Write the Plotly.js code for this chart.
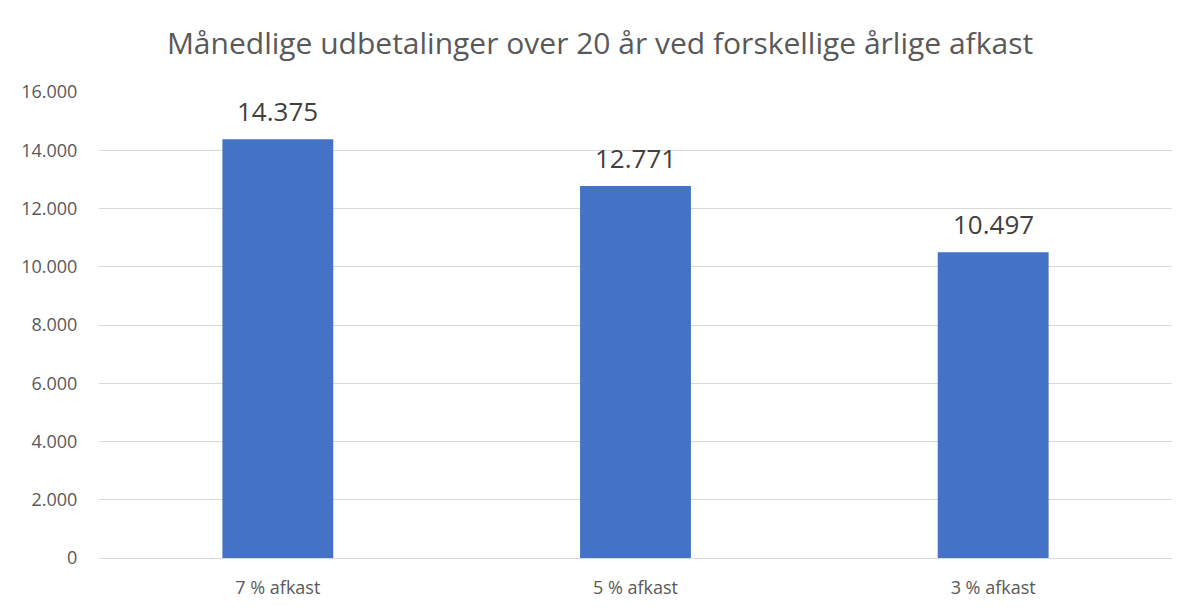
<!DOCTYPE html>
<html>
<head>
<meta charset="utf-8">
<script src="https://cdn.plot.ly/plotly-3.0.1.min.js"></script>
<style>
  html, body { margin: 0; padding: 0; background: #fff; }
  #chart { width: 1200px; height: 615px; }
</style>
</head>
<body>
<div id="chart"></div>
<script>
// afkastscenarier og månedlig udbetaling (kr.)
const categories = ['7 % afkast', '5 % afkast', '3 % afkast']
const payouts = [14375, 12771, 10497]
const yTicks = [0, 2000, 4000, 6000, 8000, 10000, 12000, 14000, 16000]

const font = 'Open Sans, Noto Sans, sans-serif'

const trace = {
  x: categories,
  y: payouts,
  type: 'bar',
  marker: { color: '#4472C4' },
  hoverinfo: 'none'
}

// dataetiketter lidt over søjlerne
const labels = categories.map((c, i) => ({
  x: c,
  y: payouts[i],
  text: payouts[i].toLocaleString('da-DK'),
  showarrow: false,
  yanchor: 'bottom',
  yshift: 8,
  font: { family: font, size: 26, color: '#404040' }
}))

const layout = {
  width: 1200,
  height: 615,
  separators: ',.',
  paper_bgcolor: '#ffffff',
  plot_bgcolor: '#ffffff',
  margin: { l: 99, r: 28, t: 92, b: 57 },
  bargap: 0.69,
  showlegend: false,
  font: { family: font, color: '#595959' },
  annotations: labels,
  title: {
    text: 'Månedlige udbetalinger over 20 år ved forskellige årlige afkast',
    font: { family: font, size: 30, color: '#595959' },
    x: 0.5,
    xanchor: 'center',
    y: 0.93,
    yanchor: 'middle'
  },
  xaxis: {
    tickfont: { family: font, size: 18, color: '#595959' },
    showline: true,
    linecolor: '#d9d9d9',
    linewidth: 1,
    ticks: 'outside',
    ticklen: 13,
    tickcolor: 'rgba(0,0,0,0)'
  },
  yaxis: {
    range: [0, 16000],
    tickvals: yTicks,
    tickformat: ',d',
    tickfont: { family: font, size: 18, color: '#595959' },
    showgrid: true,
    gridcolor: '#d9d9d9',
    gridwidth: 1,
    zeroline: false,
    ticks: 'outside',
    ticklen: 17,
    tickcolor: 'rgba(0,0,0,0)'
  }
}

Plotly.newPlot('chart', [trace], layout, { staticPlot: true })
</script>
</body>
</html>
